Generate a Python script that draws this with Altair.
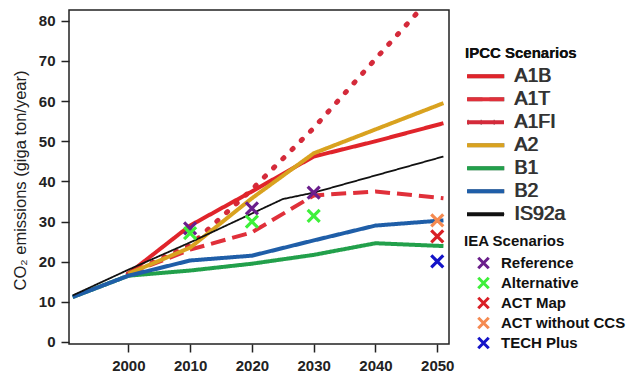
import altair as alt
import pandas as pd

# IPCC SRES emission pathways, CO2 in Gt per year
a1b_years = [2000, 2010, 2020, 2030, 2040, 2051]
a1b_vals = [17.0, 29.0, 37.5, 46.2, 50.0, 54.5]
a1t_years = [2000, 2010, 2020, 2030, 2040, 2051]
a1t_vals = [17.0, 23.0, 27.3, 36.5, 37.5, 35.8]
a1fi_years = [2000, 2010, 2020, 2030, 2040, 2050]
a1fi_vals = [17.0, 24.0, 38.0, 53.3, 70.5, 87.5]
a2_years = [2000, 2010, 2020, 2030, 2051]
a2_vals = [17.0, 23.5, 35.8, 47.0, 59.5]
b1_years = [1991, 2000, 2010, 2020, 2030, 2040, 2051]
b1_vals = [11.2, 16.5, 17.8, 19.5, 21.7, 24.6, 23.9]
b2_years = [1991, 2000, 2010, 2020, 2030, 2040, 2051]
b2_vals = [11.2, 16.5, 20.3, 21.5, 25.3, 29.0, 30.3]
is92a_years = [1991, 2000, 2010, 2020, 2025, 2030, 2051]
is92a_vals = [11.6, 18.0, 24.8, 32.0, 35.6, 37.2, 46.2]

ipcc_names = ["A1B", "A1T", "A1FI", "A2", "B1", "B2", "IS92a"]
ipcc_colors = ["#e0242b", "#e0303a", "#d42a3a", "#d9a21f", "#22a04b", "#1f5ea8", "#111111"]
ipcc_dashes = [[1, 0], [15, 7], [1.5, 11.5], [1, 0], [1, 0], [1, 0], [1, 0]]
ipcc_widths = [4, 4, 5, 4, 4, 4, 1.8]

# IEA scenario estimates
ref_years = [2010, 2020, 2030]
ref_vals = [28.3, 33.3, 37.2]
alt_years = [2010, 2020, 2030]
alt_vals = [27.1, 30.0, 31.4]
actmap_years = [2050]
actmap_vals = [26.3]
actnoccs_years = [2050]
actnoccs_vals = [30.3]
tech_years = [2050]
tech_vals = [20.1]

iea_names = ["Reference", "Alternative", "ACT Map", "ACT without CCS", "TECH Plus"]
iea_colors = ["#6b1e8c", "#3ef03a", "#d91f26", "#f58a50", "#1414c8"]

x_ticks = [2000, 2010, 2020, 2030, 2040, 2050]
y_ticks = [0, 10, 20, 30, 40, 50, 60, 70, 80]

ipcc_series = [
    (a1b_years, a1b_vals), (a1t_years, a1t_vals), (a1fi_years, a1fi_vals),
    (a2_years, a2_vals), (b1_years, b1_vals), (b2_years, b2_vals),
    (is92a_years, is92a_vals),
]
iea_series = [
    (ref_years, ref_vals), (alt_years, alt_vals), (actmap_years, actmap_vals),
    (actnoccs_years, actnoccs_vals), (tech_years, tech_vals),
]

lines_df = pd.DataFrame(
    [
        {"scenario": name, "year": y, "co2": v}
        for name, (ys, vs) in zip(ipcc_names, ipcc_series)
        for y, v in zip(ys, vs)
    ]
)
points_df = pd.DataFrame(
    [
        {"iea": name, "year": y, "co2": v}
        for name, (ys, vs) in zip(iea_names, iea_series)
        for y, v in zip(ys, vs)
    ]
)

X_PATH = "M-1,-1L1,1M-1,1L1,-1"

x_enc = alt.X(
    "year:Q",
    scale=alt.Scale(domain=[1990.4, 2051.9], nice=False, zero=False),
    axis=alt.Axis(values=x_ticks, format="d", title=None),
)
y_enc = alt.Y(
    "co2:Q",
    scale=alt.Scale(domain=[-0.5, 82.7], nice=False, zero=False),
    axis=alt.Axis(
        values=y_ticks,
        title="CO₂ emissions (giga ton/year)",
        titleX=-49,
        titleY=170,
        titleAlign="center",
        titleBaseline="middle",
        titleFontSize=16.5,
        titleFontWeight="normal",
        titleColor="#222222",
    ),
)

ipcc_legend = alt.Legend(
    title="IPCC Scenarios",
    orient="none",
    legendX=396,
    legendY=36,
    symbolType="stroke",
    symbolSize=1369,
    symbolStrokeWidth=4,
    clipHeight=22.3,
    labelFontSize=19.5,
    labelFontWeight="normal",
    labelColor="#333333",
    labelOffset=8,
    rowPadding=0,
    titleFontSize=15,
    titleFontWeight="bold",
    titleColor="#111111",
    titlePadding=4,
)

line_encoding = dict(
    x=x_enc,
    y=y_enc,
    color=alt.Color(
        "scenario:N",
        scale=alt.Scale(domain=ipcc_names, range=ipcc_colors),
        legend=ipcc_legend,
    ),
    strokeDash=alt.StrokeDash(
        "scenario:N",
        scale=alt.Scale(domain=ipcc_names, range=ipcc_dashes),
        legend=ipcc_legend,
    ),
    strokeWidth=alt.StrokeWidth(
        "scenario:N",
        scale=alt.Scale(type="ordinal", domain=ipcc_names, range=ipcc_widths),
        legend=None,
    ),
)

# solid and dashed pathways
base_lines = (
    alt.Chart(lines_df)
    .transform_filter(alt.datum.scenario != "A1FI")
    .mark_line(clip=True)
    .encode(**line_encoding)
)
# dotted pathway drawn with round caps
dotted_line = (
    alt.Chart(lines_df)
    .transform_filter(alt.datum.scenario == "A1FI")
    .mark_line(clip=True, strokeCap="round")
    .encode(**line_encoding)
)
lines = alt.layer(dotted_line, base_lines)

points = alt.Chart(points_df).mark_point(
    shape=X_PATH, filled=False, size=144, strokeWidth=3.2, opacity=1
).encode(
    x=x_enc,
    y=y_enc,
    color=alt.Color(
        "iea:N",
        scale=alt.Scale(domain=iea_names, range=iea_colors),
        legend=alt.Legend(
            title="IEA Scenarios",
            orient="none",
            legendX=395,
            legendY=224,
            symbolType=X_PATH,
            symbolSize=110,
            symbolStrokeWidth=3,
            symbolOffset=12,
            clipHeight=20,
            labelFontSize=15,
            labelFontWeight="bold",
            labelColor="#111111",
            labelOffset=10,
            rowPadding=0,
            titleFontSize=15,
            titleFontWeight="bold",
            titleColor="#111111",
            titlePadding=4,
        ),
    ),
)

chart = (
    alt.layer(lines, points)
    .resolve_scale(color="independent")
    .properties(
        width=380,
        height=334,
        autosize=alt.AutoSizeParams(type="none"),
        padding={"left": 69, "top": 10, "right": 189, "bottom": 30},
        background="white",
    )
    .configure(font="Liberation Sans")
    .configure_view(stroke="#222222", strokeWidth=1.5)
    .configure_axis(
        grid=False,
        domain=False,
        labelFont="Liberation Sans",
        labelFontWeight="bold",
        labelFontSize=15,
        labelColor="#222222",
        tickColor="#222222",
        tickWidth=1.5,
        tickSize=8,
        labelPadding=6,
    )
    .configure_legend(
        padding=0,
        labelFont="Liberation Sans",
        titleFont="Liberation Sans",
    )
)

chart.save("out.html", embed_options={"renderer": "svg", "actions": False})
